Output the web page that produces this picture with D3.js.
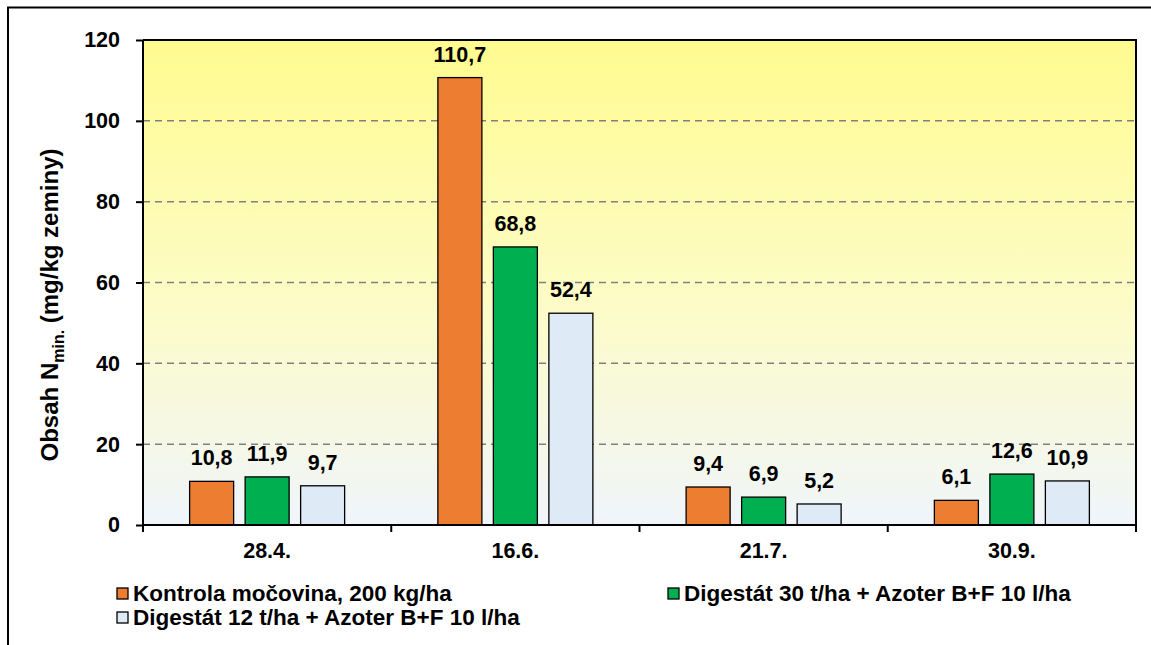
<!DOCTYPE html>
<html><head><meta charset="utf-8">
<script src="https://cdn.jsdelivr.net/npm/d3@7"></script>
<style>body{margin:0;background:#fff}svg{display:block}</style>
</head><body>
<svg id="c" width="1151" height="645"></svg>
<script>
const categories = ["28.4.", "16.6.", "21.7.", "30.9."];
const seriesNames = ["Kontrola močovina, 200 kg/ha", "Digestát 30 t/ha + Azoter B+F 10 l/ha", "Digestát 12 t/ha + Azoter B+F 10 l/ha"];
const kontrola = [10.8, 110.7, 9.4, 6.1];
const digestat30 = [11.9, 68.8, 6.9, 12.6];
const digestat12 = [9.7, 52.4, 5.2, 10.9];
const yTicks = [0, 20, 40, 60, 80, 100, 120];
const colors = ["#ED7D31", "#00B050", "#DEEBF7"];

const series = [kontrola, digestat30, digestat12];
const svg = d3.select("#c");
const font = "Arial, 'Liberation Sans', sans-serif";
const L = 143, R = 1136, T = 40, B = 525;

// outer frame
svg.append("rect").attr("x", 8).attr("y", 7.5).attr("width", 1160).attr("height", 660)
  .attr("fill", "#fff").attr("stroke", "#000").attr("stroke-width", 2);

const defs = svg.append("defs");
const g = defs.append("linearGradient").attr("id", "bg").attr("x1", 0).attr("y1", 0).attr("x2", 0).attr("y2", 1);
g.append("stop").attr("offset", "0%").attr("stop-color", "#FFFB8F");
g.append("stop").attr("offset", "55%").attr("stop-color", "#FDFCC8");
g.append("stop").attr("offset", "100%").attr("stop-color", "#F0F5FB");

const x = d3.scaleBand().domain(categories).range([L, R]).paddingInner(0).paddingOuter(0);
const y = d3.scaleLinear().domain([0, 120]).range([B, T]);

svg.append("rect").attr("x", L).attr("y", T).attr("width", R - L).attr("height", B - T).attr("fill", "url(#bg)");

// gridlines
svg.append("g").selectAll("line").data(yTicks.filter(d => d > 0 && d < 120)).join("line")
  .attr("x1", L).attr("x2", R).attr("y1", d => y(d)).attr("y2", d => y(d))
  .attr("stroke", "#808080").attr("stroke-width", 1.5).attr("stroke-dasharray", "7,5");

// bars
const bw = 44, step = 55.5;
const groups = svg.append("g");
categories.forEach((c, i) => {
  const cx = x(c) + x.bandwidth() / 2;
  series.forEach((s, k) => {
    const bx = cx + (k - 1) * step - bw / 2;
    groups.append("rect").attr("x", bx).attr("y", y(s[i])).attr("width", bw).attr("height", B - y(s[i]))
      .attr("fill", colors[k]).attr("stroke", "#000").attr("stroke-width", 1.3);
    groups.append("text").attr("x", cx + (k - 1) * step).attr("y", y(s[i]) - 16)
      .attr("text-anchor", "middle").attr("font-family", font).attr("font-weight", "bold")
      .attr("font-size", 21.5).text(String(s[i]).replace(".", ","));
  });
});

// plot border top/right
svg.append("path").attr("d", `M${L},${T}H${R}V${B}`).attr("fill", "none").attr("stroke", "#000").attr("stroke-width", 2);

// y axis
const ya = svg.append("g").attr("transform", `translate(${L},0)`)
  .call(d3.axisLeft(y).tickValues(yTicks).tickSize(7).tickPadding(16).tickFormat(d3.format("d")));
ya.select(".domain").attr("stroke-width", 2).attr("d", `M0,${T}V${B}`);
ya.selectAll(".tick line").attr("stroke-width", 2);
ya.selectAll("text").attr("font-family", font).attr("font-weight", "bold").attr("font-size", 21.5).attr("fill", "#000");

// x axis
const xa = svg.append("g").attr("transform", `translate(0,${B})`)
  .call(d3.axisBottom(x).tickSize(0).tickPadding(0).tickFormat(""));
xa.select(".domain").attr("stroke-width", 2).attr("d", `M${L},0H${R}`);
const bounds = [L, ...categories.map(c => x(c) + x.bandwidth())];
xa.selectAll(".sep").data(bounds).join("line").attr("class", "sep")
  .attr("x1", d => d).attr("x2", d => d).attr("y1", 0).attr("y2", 7).attr("stroke", "#000").attr("stroke-width", 2);
xa.selectAll(".lbl").data(categories).join("text").attr("class", "lbl")
  .attr("x", d => x(d) + x.bandwidth() / 2).attr("y", 33).attr("text-anchor", "middle")
  .attr("font-family", font).attr("font-weight", "bold").attr("font-size", 21.5).attr("fill", "#000").text(d => d);

// y title
const yt = svg.append("text").attr("transform", "translate(58,305) rotate(-90)").attr("text-anchor", "middle")
  .attr("font-family", font).attr("font-weight", "bold").attr("font-size", 24).attr("fill", "#000");
yt.append("tspan").text("Obsah N");
yt.append("tspan").attr("font-size", 16).attr("dy", 6).text("min.");
yt.append("tspan").attr("dy", -6).text(" (mg/kg zeminy)");

// legend
const legendPos = [[117, 601], [668, 601], [117, 625]];
seriesNames.forEach((n, k) => {
  const [lx, ly] = legendPos[k];
  svg.append("rect").attr("x", lx).attr("y", ly - 13).attr("width", 11).attr("height", 11)
    .attr("fill", colors[k]).attr("stroke", "#000").attr("stroke-width", 1.3);
  svg.append("text").attr("x", lx + 16).attr("y", ly).attr("font-family", font).attr("font-weight", "bold")
    .attr("font-size", 22.5).attr("fill", "#000").text(n);
});
</script>
</body></html>
